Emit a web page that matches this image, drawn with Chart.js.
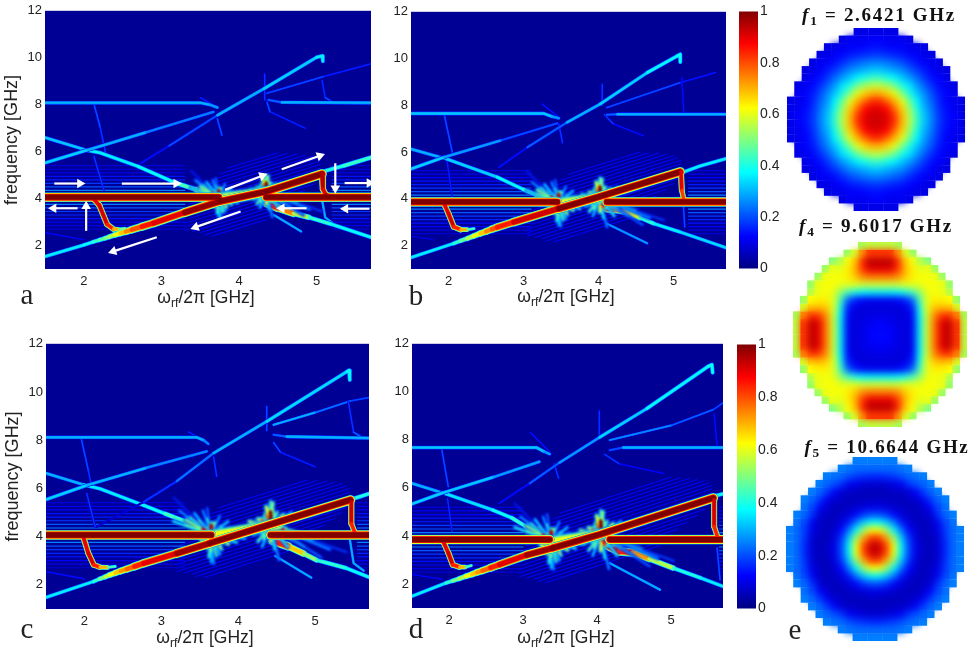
<!DOCTYPE html>
<html><head><meta charset="utf-8">
<script src="https://cdn.jsdelivr.net/npm/chart.js@4/dist/chart.umd.js"></script>
<style>
html,body{margin:0;padding:0;background:#fff;width:980px;height:654px;overflow:hidden}
#stage{position:relative;width:980px;height:654px}
canvas{position:absolute}
.t{position:absolute;line-height:0;white-space:nowrap;color:#222}
.t sub{font-size:70%;vertical-align:-0.32em;line-height:0}
</style></head><body><div id="stage"></div>
<script>
// ---------- data: [x GHz, y GHz, amplitude] ----------
const xTicks=[2,3,4,5], yTicks=[2,4,6,8,10,12], barTicks=[0,0.2,0.4,0.6,0.8,1];

const aDrive=[[[1.5,4.05,1],[3.74,4.05,1]],[[4.35,4.05,1],[5.7,4.05,1]]];
const aDiag=[[1.5,1.53,.36],[2.0,2.02,.38],[2.12,2.15,.42],[2.2,2.23,.46],[2.27,2.3,.5],[2.33,2.37,.55],[2.4,2.45,.62],[2.47,2.52,.68],[2.54,2.59,.74],[2.62,2.67,.8],[2.75,2.8,.86],[2.9,2.95,.9],[3.3,3.4,.98],[3.75,3.87,1],[4.35,4.29,1],[5.07,5.04,1]];
const aHook=[[[2.12,4.0,.9],[2.2,3.7,.92],[2.3,2.9,.85],[2.38,2.7,.7],[2.45,2.68,.5],[2.53,2.72,.36]],[[5.07,5.04,.95],[5.08,4.4,.9],[5.12,4.15,.95],[5.2,4.05,1]]];
const aLines=[[[5.1,5.17,.4],[5.35,5.4,.43],[5.7,5.75,.43]],
 [[1.5,6.6,.32],[2.04,6.06,.36],[2.21,5.95,.36],[2.7,5.37,.38],[3.18,4.67,.45],[3.45,4.38,.58],[3.6,4.2,.7],[3.72,4.08,.85]],
 [[4.36,3.8,.85],[4.5,3.6,.75],[4.7,3.37,.55],[4.9,3.2,.42],[5.18,2.92,.38],[5.7,2.35,.36]],
 [[1.5,8.08,.3],[3.5,8.08,.3],[3.62,8.0,.28],[3.72,7.88,.3]],
 [[4.38,8.2,.22],[4.55,8.1,.3],[5.7,8.08,.3]],
 [[2.73,5.5,.14],[3.1,6.25,.2],[3.72,7.55,.3],[4.32,8.68,.33],[5.0,10.02,.36],[5.07,10.08,.36],[5.08,9.85,.2]],
 [[1.5,5.52,.33],[2.04,6.06,.3],[2.8,6.82,.25],[3.67,7.69,.27]]];
const aFaint=[[[4.36,8.49,.2],[5.09,9.2,.16],[5.7,9.74,.14]],[[2.13,8.04,.2],[2.21,7.05,.18],[2.29,5.8,.15]],[[2.13,5.8,.18],[2.26,4.36,.14]],
 [[5.07,9.03,.17],[5.11,8.3,.2],[5.18,8.17,.25]],[[5.07,3.94,.3],[5.11,3.2,.3],[5.22,2.92,.32]],[[3.5,8.3,.16],[3.72,7.9,.2]],[[3.72,7.4,.2],[3.78,6.7,.16]],
 [[4.33,9.3,.18],[4.33,8.2,.25]],[[4.36,8.1,.2],[4.4,7.7,.16],[4.85,7.0,.12]],[[4.45,3.3,.3],[4.8,2.6,.16]],[[1.5,2.55,.12],[2.0,2.25,.1]]];

const bDrive=[[[1.5,3.86,1],[3.45,3.86,1]],[[4.11,3.86,1],[5.7,3.86,1]]];
const bDiag=[[1.5,1.49,.36],[2.07,2.09,.42],[2.16,2.2,.48],[2.25,2.3,.55],[2.33,2.4,.61],[2.42,2.51,.68],[2.5,2.6,.74],[2.58,2.7,.8],[2.65,2.78,.85],[2.87,3.0,.92],[3.47,3.58,1],[3.98,4.05,1],[5.09,5.14,1]];
const bHook=[[[1.94,3.79,.9],[2.0,3.36,.92],[2.07,2.8,.85],[2.16,2.68,.7],[2.25,2.68,.45],[2.34,2.72,.32]],[[5.1,5.15,.9],[5.11,4.36,.82],[5.14,3.93,.9]]];
const bLines=[[[5.12,5.13,.36],[5.35,5.4,.36],[5.7,5.72,.36]],
 [[1.5,6.13,.3],[1.98,5.7,.33],[2.65,4.93,.37],[3.0,4.4,.42],[3.18,4.15,.52],[3.35,3.98,.66],[3.45,3.9,.85]],
 [[4.02,3.65,.85],[4.2,3.55,.72],[4.34,3.48,.6],[4.55,3.2,.42],[4.74,2.94,.36],[5.09,2.58,.34],[5.7,1.91,.33]],
 [[1.5,7.65,.32],[3.27,7.65,.32],[3.38,7.52,.28],[3.47,7.45,.26]],
 [[4.11,7.6,.22],[4.25,7.62,.3],[5.7,7.62,.32]],
 [[2.67,5.35,.14],[3.05,6.2,.22],[3.58,7.27,.3],[4.02,8.05,.33],[4.65,9.4,.37],[5.05,10.11,.38],[5.09,10.18,.38],[5.09,9.85,.2]],
 [[1.5,5.28,.33],[1.94,5.78,.28],[2.7,6.5,.2],[3.45,7.23,.24]]];
const bFaint=[[[4.11,7.9,.2],[5.09,8.97,.15],[5.56,9.4,.1]],[[1.94,7.65,.2],[2.05,6.0,.16]],[[1.98,5.64,.16],[2.05,4.07,.13]],
 [[5.11,9.19,.14],[5.14,7.62,.18]],[[5.13,3.8,.2],[5.15,2.8,.15]],[[3.25,8.05,.15],[3.47,7.5,.18]],[[3.47,7.2,.18],[3.52,6.4,.14]],
 [[4.05,8.9,.18],[4.05,8.0,.22]],[[4.08,7.6,.18],[4.2,7.2,.14],[4.6,6.7,.1]],[[4.11,2.94,.28],[4.65,2.1,.12]],[[1.5,2.4,.1],[1.8,2.25,.1]]];

const cDrive=[[[1.5,4.06,1],[3.65,4.06,1]],[[4.42,4.06,1],[5.7,4.06,1]]];
const cDiag=[[1.5,1.48,.36],[2.12,2.14,.42],[2.2,2.25,.5],[2.27,2.33,.56],[2.33,2.41,.62],[2.4,2.49,.68],[2.47,2.57,.73],[2.55,2.65,.78],[2.65,2.76,.85],[2.77,2.89,.9],[3.2,3.3,.97],[3.63,3.72,1],[4.42,4.5,1],[5.46,5.51,1]];
const cHook=[[[1.99,3.93,.9],[2.05,3.31,.92],[2.12,2.83,.85],[2.2,2.73,.7],[2.3,2.72,.45],[2.4,2.76,.3]],[[5.47,5.44,.92],[5.47,4.54,.85],[5.52,4.13,.95]]];
const cLines=[[[5.5,5.58,.4],[5.7,5.78,.42]],
 [[1.5,6.63,.3],[1.99,6.15,.36],[2.2,5.99,.36],[2.77,5.3,.38],[3.05,4.95,.44],[3.33,4.61,.58],[3.5,4.35,.7],[3.63,4.13,.85]],
 [[4.45,3.82,.85],[4.65,3.6,.68],[4.85,3.3,.52],[5.02,3.03,.42],[5.4,2.7,.38],[5.7,2.32,.36]],
 [[1.5,8.12,.3],[3.46,8.12,.3],[3.55,8.0,.26],[3.61,7.85,.28]],
 [[4.46,8.23,.22],[4.63,8.15,.3],[5.7,8.09,.3]],
 [[2.16,4.41,.1],[2.77,5.44,.18],[3.2,6.3,.24],[3.68,7.47,.3],[4.37,8.78,.34],[5.41,10.84,.37],[5.44,10.9,.37],[5.45,10.5,.18]],
 [[1.5,5.54,.33],[2.03,6.13,.3],[2.8,6.85,.26],[3.59,7.54,.27]]];
const cFaint=[[[4.46,8.64,.3],[5.0,9.15,.24],[5.46,9.63,.2],[5.7,9.77,.2]],[[1.96,8.05,.2],[2.05,6.75,.18],[2.09,6.13,.17]],[[2.03,5.8,.18],[2.14,4.4,.14]],
 [[5.43,9.63,.18],[5.5,8.33,.22],[5.61,8.12,.26]],[[5.45,3.9,.3],[5.5,2.9,.3],[5.63,2.59,.32]],[[3.35,8.35,.16],[3.6,7.9,.2]],[[3.68,7.3,.18],[3.72,6.5,.14]],
 [[4.37,9.4,.2],[4.37,8.4,.25]],[[4.46,7.9,.2],[4.55,7.5,.16],[5.0,6.9,.11]],[[4.48,3.2,.3],[4.95,2.3,.15]],[[1.5,2.55,.14],[2.0,2.25,.12]]];

const dDrive=[[[1.5,3.84,1],[3.36,3.84,1]],[[4.17,3.84,1],[5.7,3.84,1]]];
const dDiag=[[1.5,1.49,.36],[1.96,2.04,.42],[2.05,2.13,.49],[2.14,2.22,.55],[2.23,2.32,.62],[2.31,2.4,.68],[2.38,2.48,.73],[2.45,2.55,.78],[2.56,2.67,.85],[2.68,2.8,.9],[3.05,3.2,.97],[3.4,3.49,1],[4.03,4.05,1],[5.57,5.57,1]];
const dHook=[[[1.92,3.77,.9],[1.99,3.29,.92],[2.05,2.8,.85],[2.14,2.7,.7],[2.22,2.7,.45],[2.3,2.76,.3]],[[5.58,5.5,.92],[5.58,4.39,.85],[5.63,3.91,.92]]];
const dLines=[[[5.59,5.67,.38],[5.7,5.75,.38]],
 [[1.5,6.19,.3],[1.96,5.75,.35],[2.59,5.08,.38],[2.85,4.75,.42],[3.04,4.39,.55],[3.18,4.1,.68],[3.27,3.91,.8],[3.4,3.77,.9]],
 [[4.12,3.63,.9],[4.3,3.36,.85],[4.48,3.31,.72],[4.7,3.05,.55],[5.03,2.66,.4],[5.4,2.25,.36],[5.7,1.9,.34]],
 [[1.5,7.68,.32],[3.18,7.68,.32],[3.28,7.52,.28],[3.36,7.41,.26]],
 [[4.17,7.57,.2],[4.35,7.68,.3],[5.7,7.68,.32]],
 [[2.68,5.36,.14],[3.09,6.19,.22],[3.49,7.05,.28],[4.03,8.1,.33],[4.67,9.3,.37],[5.5,11.06,.38],[5.55,11.13,.38],[5.56,10.8,.18]],
 [[1.5,5.33,.33],[1.92,5.8,.32],[2.6,6.45,.28],[3.22,7.09,.28]]];
const dFaint=[[[4.17,7.99,.26],[5.0,8.6,.22],[5.57,9.26,.2],[5.7,9.54,.2]],[[1.9,7.64,.2],[1.99,6.05,.17]],[[1.98,5.55,.17],[2.04,4.2,.13]],
 [[5.58,9.1,.14],[5.62,7.78,.18]],[[5.62,3.5,.2],[5.66,2.18,.15]],[[3.1,8.3,.15],[3.36,7.5,.18]],[[3.42,7.0,.18],[3.48,6.4,.13]],
 [[4.03,9.2,.18],[4.03,8.2,.22]],[[4.1,7.4,.18],[4.3,7.0,.13],[4.9,6.6,.1]],[[4.17,2.87,.3],[4.85,1.76,.12]],[[1.5,2.4,.12],[1.9,2.2,.1]]];

// white direction arrows of panel a: [x0,y0,x1,y1]
const aArrows=[[1.62,4.63,1.95,4.63],[2.49,4.63,3.19,4.63],[1.92,3.58,1.61,3.58],[2.03,2.62,2.03,3.66],[2.94,2.35,2.38,1.75],[4.02,3.44,3.44,2.78],
 [3.82,4.36,4.3,4.96],[4.55,5.24,5.04,5.81],[5.24,5.49,5.24,4.43],[5.36,4.65,5.68,4.65],[4.87,3.58,4.55,3.58],[5.68,3.56,5.37,3.56]];

// speckle bursts at the two anticrossings: [dx,dy,amplitude]
const burstLeft=[[0,-1.05,.35],[0,-.6,.6],[.06,-.8,.45],[-.05,-.5,.55],[.12,-.55,.5],[.2,-.35,.55],[.3,-.3,.4],[.4,-.15,.35],[-.1,.35,.7],[-.15,.5,.55],[-.25,.65,.45],[-.38,.9,.3],[-.45,1.4,.16],[-.05,.6,.45],[.05,.45,.5],[-.3,.35,.6],[0,.3,.8],[.12,.3,.55],[.22,.25,.45],
 [-.2,.8,.35],[-.1,.9,.3],[-.3,.55,.5],[-.45,.5,.4],[-.05,1,.25],[.1,.7,.3],[.2,.5,.35],[.35,.3,.4],[.08,-.4,.75],[-.1,-.35,.7],[.18,-.2,.7],[-.03,-.85,.42],[.1,-.75,.35],[.03,-1.1,.3],[0,.35,.95],[0,-.35,.9],[.1,-.25,.9],[-.1,.2,.9]];
const burstRight=[[0,.9,.45],[0,.55,.75],[-.04,.4,.9],[.08,.5,.45],[.25,.5,.35],[.45,.6,.25],[.05,-.9,.4],[.1,-1.3,.3],[0,-.6,.6],[.25,-.5,.6],[.4,-.8,.4],[.6,-1.2,.25],[-.08,-.5,.5],[-.2,-.3,.6],[-.3,-.1,.5],[-.25,.15,.55],[.15,-.3,.8],
 [-.05,.7,.6],[.03,.85,.5],[.15,.4,.55],[.3,.35,.5],[.55,.45,.3],[-.15,.25,.55],[-.1,-.8,.35],[.3,-.3,.7],[.5,-.55,.45],[.2,-.8,.4],[.7,-.9,.3],[.9,-1.0,.2],[-.15,-.6,.45],[.05,-.4,.8],[0,.5,1],[0,.35,1],[.05,-.3,.9],[-.1,-.2,.85],[-.1,.2,.8],[.15,-.15,.9]];
const crossings={a:[[3.74,4.05],[4.35,4.25]],b:[[3.47,3.85],[4.02,4.02]],c:[[3.65,4.08],[4.42,4.45]],d:[[3.38,3.8],[4.05,4.05]]};
const burstSize={a:.8,b:.95,c:1.1,d:1.1};

// faint hatching between the anticrossings: y-x offset, x start, x end
const hazeK=[1.45,1.3,1.15,1,.85,.7,.55,.4,.25,.1,-.05,-.2,-.35,-.5,-.65,-.8,-.95,-1.1,-1.25];
const hazeX0=[3.85,3.75,3.68,3.6,3.52,3.45,3.4,3.35,3.3,3.3,3.3,3.35,3.3,3.3,3.3,3.4,3.5,3.55,3.65];
const hazeX1=[4.5,4.62,4.75,4.85,4.95,5.0,5.05,5.05,5.05,5.05,5.05,5.0,4.95,4.85,4.72,4.6,4.5,4.42,4.35];
const hazeShift={a:[0,0],b:[-.25,.05],c:[-.1,.4],d:[-.35,.5]};

// horizontal fringes around the drive line: offset from drive, amplitude
const bandDy=[-1.35,-1.2,-1.05,-.9,-.75,-.6,-.45,-.3,.3,.45,.6,.75,.9,1.05,1.2,1.35];
const bandV=[.08,.1,.12,.14,.16,.18,.21,.25,.25,.21,.18,.15,.14,.12,.11,.09];
const bandEnds={a:[3.3,5.2,4.05],b:[3.1,5.2,3.86],c:[3.3,5.55,4.06],d:[3.0,5.65,3.84]};

// mode maps (quarter of the 24x24 disc, centre to rim, value x100)
const mode1=[[92,90,83,70,56,43,32,25,18,14,12,10],[90,87,77,67,53,40,30,24,17,13,11,10],[83,77,70,60,48,37,28,22,16,12,11,10],[70,67,60,50,40,32,26,20,15,12,11],[56,53,48,40,35,28,22,17,13,11,10],[43,40,37,32,28,23,18,14,12,10],[32,30,28,26,22,18,15,12,10,10],[25,24,22,20,17,14,12,11,10],[18,17,16,15,13,12,10,10],[14,13,12,12,11,10,10],[12,11,11,11,10],[10,10,10]];
const mode4=[[13,12,10,9,11,36,58,76,90,94,82,56],[12,11,10,9,11,36,58,76,90,94,82,56],[10,10,9,9,12,37,58,74,82,84,74,54],[9,9,9,10,15,40,60,68,70,68,58],[11,11,12,15,22,44,60,64,64,62,52],[36,36,37,40,44,52,60,62,60,54],[58,58,58,60,60,60,62,62,60,52],[76,76,74,68,64,62,62,60,52],[90,90,82,70,64,60,60,52],[94,94,84,68,62,54,50],[82,82,74,58,52],[56,56,54]];
const mode5=[[93,82,62,38,20,10,7,6,8,16,23,25],[82,72,54,33,18,9,6,6,8,17,23,25],[62,54,38,25,13,8,6,7,10,18,23,25],[38,33,25,15,9,7,6,7,11,20,24],[20,18,13,9,7,6,7,8,17,23,25],[10,9,8,7,6,6,8,12,20,24],[7,6,6,6,7,8,11,18,23,25],[6,6,7,7,8,12,18,23,25],[8,8,10,11,17,20,23,25],[16,17,18,20,23,24,25],[23,23,23,24,25],[25,25,25]];

// ---------- styles and layout ----------
const stage=document.getElementById('stage');
const sans='"Liberation Sans",Arial,sans-serif', serif='"Liberation Serif",serif';
function jet(v){const c=t=>Math.round(255*Math.max(0,Math.min(1,1.5-Math.abs(4*v-t))));return `rgb(${c(3)},${c(2)},${c(1)})`;}
function addCanvas(l,t,w,h,css){const c=document.createElement('canvas');c.width=w;c.height=h;c.style.cssText=`left:${l}px;top:${t}px;width:${w}px;height:${h}px;${css||''}`;stage.appendChild(c);return c;}

const plotFill={id:'plotFill',beforeDatasetsDraw(ch,a,o){if(!o.color)return;const r=ch.chartArea,x=ch.ctx;x.save();x.fillStyle=o.color;x.fillRect(r.left,r.top,r.right-r.left,r.bottom-r.top);x.restore();}};
Chart.register(plotFill);

const layers=[[.25,1],[.45,.93],[.62,.86],[.85,.72],[1,.55]];
function toPts(a){return a.map(p=>({x:p[0],y:p[1],v:p[2]}));}
function layerSet(arr,scale,f,g){return {data:toPts(arr),showLine:true,pointRadius:0,borderCapStyle:'round',borderJoinStyle:'round',
  segment:{borderColor:c=>jet(c.chart.data.datasets[c.datasetIndex].data[c.p0DataIndex].v*f),
           borderWidth:c=>(.8+9*c.chart.data.datasets[c.datasetIndex].data[c.p0DataIndex].v)*scale*g}};}
function traceSets(arr,scale){return layers.map(([f,g])=>layerSet(arr,scale,f,g));}
function thinSet(pts,color,w){return {data:pts,showLine:true,pointRadius:0,borderColor:color,borderWidth:w,borderCapStyle:'round'};}

function baseSets(key,T){
  const out=[];
  const [s0,s1]=hazeShift[key];
  hazeK.forEach((k,i)=>{const a=hazeX0[i]+s0,b=hazeX1[i]+s1;out.push(thinSet([{x:a,y:a+k},{x:b,y:b+k}],jet(.13),1));});
  const [lEnd,rStart,drive]=bandEnds[key];
  bandDy.forEach((d,i)=>{const y=drive+d,c=jet(bandV[i]);
    out.push(thinSet([{x:1.5,y},{x:lEnd,y}],c,1.2));out.push(thinSet([{x:rStart,y},{x:5.7,y}],c,1.2));});
  T.faint.forEach(a=>out.push(...traceSets(a,.8)));
  T.lines.forEach(a=>out.push(...traceSets(a,1.05)));
  return out.reverse();
}
function burstSets(key){
  const out=[],s=burstSize[key];
  crossings[key].forEach(([cx,cy],n)=>{(n?burstRight:burstLeft).forEach(([dx,dy,v])=>{
    out.push(thinSet([{x:cx,y:cy},{x:cx+dx*s,y:cy+dy*s}],jet(v*.45),1.5+7*v));});});
  crossings[key].forEach(([cx,cy],n)=>{(n?burstRight:burstLeft).forEach(([dx,dy,v])=>{
    out.push(thinSet([{x:cx,y:cy},{x:cx+dx*s,y:cy+dy*s}],jet(v),.8+3*v));});});
  const [c0,c1]=crossings[key];
  out.push(...traceSets([[c0[0]-.1,c0[1]-.1,.62],[c1[0]+.1,c1[1]+.05,.62]],1.9));
  return out.reverse();
}
function topSets(T){
  const out=[];
  const reds=[[T.diag,1],...T.hook.map(a=>[a,.7]),...T.drive.map(a=>[a,.98])];
  layers.forEach(([f,g])=>reds.forEach(([a,sc])=>out.push(layerSet(a,sc,f,g))));
  (T.arrows||[]).forEach(([x0,y0,x1,y1])=>{out.push({data:[{x:x0,y:y0},{x:x1,y:y1}],showLine:true,borderColor:'#fff',borderWidth:2.2,
    pointStyle:'triangle',pointRadius:c=>c.dataIndex?5.5:0,pointBorderWidth:0,pointBackgroundColor:'#fff',
    rotation:c=>{const s=c.chart.scales;if(!s.x||!s.y)return 0;return Math.atan2(s.x.getPixelForValue(x1)-s.x.getPixelForValue(x0),-(s.y.getPixelForValue(y1)-s.y.getPixelForValue(y0)))*180/Math.PI;}});});
  return out.reverse();
}

function panel(key,box,T,withTitle){
  const [L,R,Y0,Y1]=box,yw=45,top=10,rgt=10,xh=40;
  const W=R-L+yw+rgt,H=Y1-Y0+top+xh;
  new Chart(addCanvas(L-yw,Y0-top,W,H,'filter:blur(.5px)'),{type:'scatter',data:{datasets:baseSets(key,T)},options:{responsive:false,animation:false,devicePixelRatio:1,
    layout:{autoPadding:false,padding:{left:0,top,right:rgt,bottom:0}},
    plugins:{legend:{display:false},tooltip:{enabled:false},plotFill:{color:jet(.02)}},
    scales:{
      x:{type:'linear',min:1.5,max:5.7,afterFit:s=>{s.height=xh;},afterBuildTicks:s=>{s.ticks=xTicks.map(v=>({value:v}));},
        grid:{display:false,drawTicks:false},border:{display:false},ticks:{color:'#222',font:{family:sans,size:13},padding:5,maxRotation:0}},
      y:{type:'linear',min:1,max:12,afterFit:s=>{s.width=yw;},afterBuildTicks:s=>{s.ticks=yTicks.map(v=>({value:v}));},
        grid:{display:false,drawTicks:false},border:{display:false},ticks:{color:'#222',font:{family:sans,size:13},padding:3},
        title:{display:withTitle,text:'frequency [GHz]',color:'#222',font:{family:sans,size:18},padding:{top:1,bottom:0}}}
    }}});
  const overlay=(sets,blur)=>new Chart(addCanvas(L,Y0,R-L,Y1-Y0,`filter:blur(${blur}px);clip-path:inset(0)`),{type:'scatter',data:{datasets:sets},options:{responsive:false,animation:false,devicePixelRatio:1,
    layout:{autoPadding:false,padding:0},plugins:{legend:{display:false},tooltip:{enabled:false}},
    scales:{x:{display:false,type:'linear',min:1.5,max:5.7},y:{display:false,type:'linear',min:1,max:12}}}});
  overlay(burstSets(key),.9);
  overlay(topSets(T),.75);
}

function colorbar(l,r,t,b){
  const w=r-l,lab=36,pad=10;
  const cv=addCanvas(l,t-pad,w+lab,b-t+2*pad,'filter:blur(.3px)');
  new Chart(cv,{type:'bar',data:{labels:['level'],datasets:[{data:[[0,1]],barPercentage:1,categoryPercentage:1,
    backgroundColor:c=>{const s=c.chart.scales.y;if(!s||!c.chart.chartArea)return jet(.5);
      const g=c.chart.ctx.createLinearGradient(0,s.getPixelForValue(0),0,s.getPixelForValue(1));
      [0,.125,.375,.625,.875,1].forEach(v=>g.addColorStop(v,jet(v)));return g;}}]},
    options:{responsive:false,animation:false,devicePixelRatio:1,layout:{autoPadding:false,padding:{left:0,top:pad,right:0,bottom:pad}},
    plugins:{legend:{display:false},tooltip:{enabled:false}},
    scales:{x:{display:false},y:{position:'right',min:0,max:1,afterFit:s=>{s.width=lab;},afterBuildTicks:s=>{s.ticks=barTicks.map(v=>({value:v}));},
      grid:{display:false,drawTicks:false},border:{display:false},ticks:{color:'#222',font:{family:sans,size:14},padding:2,callback:v=>String(+(+v).toFixed(1))}}}}});
}

function disc(l,r,t,b,q){
  const cells=[],inner=[];
  q.forEach((row,i)=>row.forEach((v,j)=>{const n=row.length;
    [[1,1],[1,-1],[-1,1],[-1,-1]].forEach(([a,b2])=>{const p={x:a*(j+.5),y:b2*(i+.5),v:v/100};cells.push(p);if(j<n-1&&i<11)inner.push(p);});}));
  const rad=(b-t)/24/Math.SQRT2+.08;
  const make=(pts,css)=>{new Chart(addCanvas(l,t,r-l,b-t,css),{type:'scatter',data:{datasets:[{data:pts,pointStyle:'rect',pointRadius:rad,pointBorderWidth:0,clip:false,
      pointBackgroundColor:c=>jet(c.raw.v)}]},options:{responsive:false,animation:false,devicePixelRatio:1,layout:{autoPadding:false,padding:0},
      plugins:{legend:{display:false},tooltip:{enabled:false}},scales:{x:{display:false,min:-12,max:12},y:{display:false,min:-12,max:12}}}});};
  make(cells,'filter:blur(.35px)');
  make(inner,'filter:blur(3.8px)');
}

panel('a',[45,371,10,269],{drive:aDrive,diag:aDiag,hook:aHook,lines:aLines,faint:aFaint,arrows:aArrows},true);
panel('b',[411,726,11,269],{drive:bDrive,diag:bDiag,hook:bHook,lines:bLines,faint:bFaint},false);
panel('c',[46,369,343,609],{drive:cDrive,diag:cDiag,hook:cHook,lines:cLines,faint:cFaint},true);
panel('d',[412,723,343,608],{drive:dDrive,diag:dDiag,hook:dHook,lines:dLines,faint:dFaint},false);
colorbar(739,758,11,269);
colorbar(737,756,344,609);
disc(787,965,28,211,mode1);
disc(793,967,242,427,mode4);
disc(786,964,457,641,mode5);

// ---------- text ----------
const omega='\u03c9<sub>rf</sub>/2\u03c0 [GHz]';
const texts=[
 [omega,206,303,17.5,sans,400],[omega,566,302,17.5,sans,400],[omega,205,643,17.5,sans,400],[omega,566,643,17.5,sans,400],
 ['a',27,304,29,serif,400],['b',416,305,29,serif,400],['c',27,638,29,serif,400],['d',416,638,29,serif,400],['e',795,639,29,serif,400],
 ['<i>f</i><sub>1</sub> = 2.6421 GHz',879,22,19,serif,700],['<i>f</i><sub>4</sub> = 9.6017 GHz',876,233,19,serif,700],['<i>f</i><sub>5</sub> = 10.6644 GHz',887,454,19,serif,700]];
texts.forEach(([h,x,base,size,fam,wt])=>{const e=document.createElement('div');e.className='t';e.innerHTML=h;
  e.style.cssText=`left:${x}px;top:${base-.35*size}px;transform:translateX(-50%);font:${wt} ${size}px ${fam};line-height:0;${wt==700?'letter-spacing:1.7px;color:#111':''}`;stage.appendChild(e);});
</script></body></html>
